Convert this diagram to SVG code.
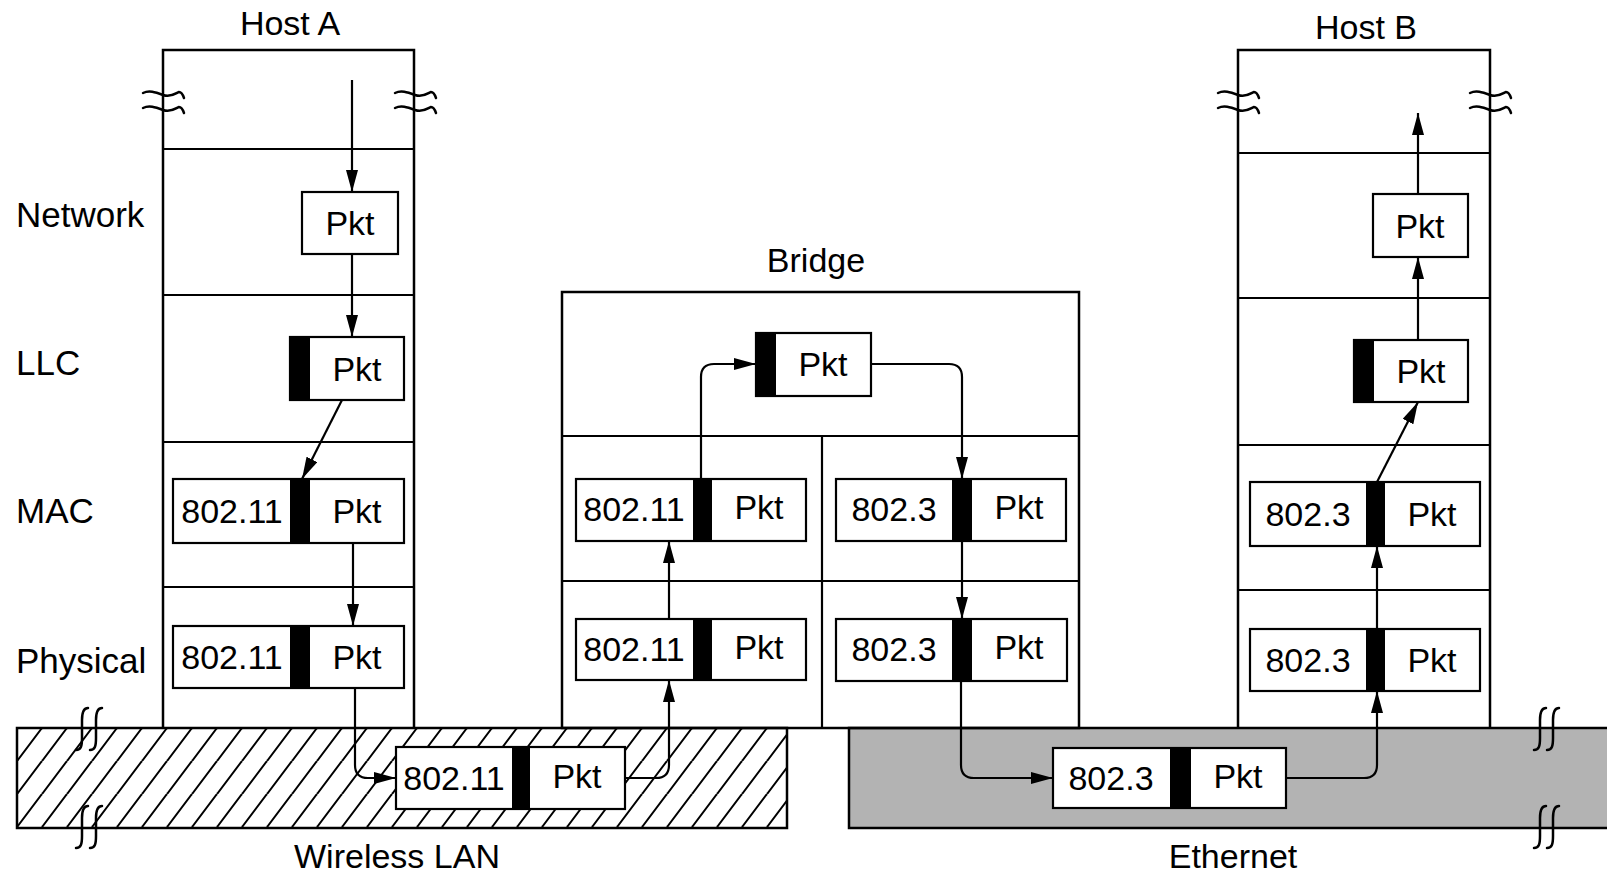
<svg xmlns="http://www.w3.org/2000/svg" width="1607" height="875" viewBox="0 0 1607 875">
<style>
.frame{fill:none;stroke:#000;stroke-width:2.5}
.div{stroke:#000;stroke-width:2.2;fill:none}
.box{fill:#fff;stroke:#000;stroke-width:2.2}
.bar{fill:#000}
.t{font-family:"Liberation Sans",Arial,sans-serif;font-size:34px;fill:#000;text-anchor:middle}
.lbl{font-family:"Liberation Sans",Arial,sans-serif;font-size:35px;fill:#000}
.ln{fill:none;stroke:#000;stroke-width:2.2}
.sq{fill:none;stroke:#000;stroke-width:2.5;stroke-linecap:round}
</style>
<defs>
<marker id="ah" markerUnits="userSpaceOnUse" markerWidth="22" markerHeight="12" refX="22" refY="6" orient="auto">
<path d="M0,0 L22,6 L0,12 z" fill="#000"/>
</marker>
<pattern id="hatch" patternUnits="userSpaceOnUse" x="17" y="728" width="25" height="33">
<path d="M-6,41 L31,-8 M-25,33 L0,0 M25,33 L50,0" stroke="#000" stroke-width="2" fill="none"/>
</pattern>
<path id="vsq" d="M6,0 C1,0 0,5 0,12 L0,30 C0,38 -1,42 -6,42"/>
<path id="hsq" d="M0,0 C6,-3 12,-1 20,2 C28,5 33,0 36,-1 C39,-1 40,2 41,5"/>
</defs>

<!-- Networks -->
<g id="wireless-lan">
<rect x="17" y="728" width="770" height="100" fill="#fff"/>
<rect x="17" y="728" width="770" height="100" fill="url(#hatch)" stroke="#000" stroke-width="2.5"/>
<use href="#vsq" x="82" y="708" class="sq"/>
<use href="#vsq" x="96" y="708" class="sq"/>
<use href="#vsq" x="82" y="806" class="sq"/>
<use href="#vsq" x="96" y="806" class="sq"/>
<text class="t" x="397" y="868">Wireless LAN</text>
</g>
<g id="ethernet">
<rect x="849" y="728" width="770" height="100" fill="#b3b3b3" stroke="#000" stroke-width="2.5"/>
<use href="#vsq" x="1540" y="708" class="sq"/>
<use href="#vsq" x="1553" y="708" class="sq"/>
<use href="#vsq" x="1540" y="806" class="sq"/>
<use href="#vsq" x="1553" y="806" class="sq"/>
<text class="t" x="1233" y="868">Ethernet</text>
</g>

<!-- Layer labels -->
<g id="layer-labels">
<text class="lbl" x="16" y="227">Network</text>
<text class="lbl" x="16" y="375">LLC</text>
<text class="lbl" x="16" y="523">MAC</text>
<text class="lbl" x="16" y="673">Physical</text>
</g>

<!-- Host A -->
<g id="host-a">
<text class="t" x="290" y="35">Host A</text>
<path class="frame" d="M163,728 L163,50 L414,50 L414,728"/>
<path class="div" d="M163,149 H414 M163,295 H414 M163,442 H414 M163,587 H414"/>
<use href="#hsq" x="143" y="93" class="sq"/>
<use href="#hsq" x="143" y="108" class="sq"/>
<use href="#hsq" x="395" y="93" class="sq"/>
<use href="#hsq" x="395" y="108" class="sq"/>
</g>
<g id="a-net"><rect class="box" x="302" y="192" width="96" height="62"/><text class="t" x="350" y="235">Pkt</text></g>
<g id="a-llc"><rect class="box" x="290" y="337" width="114" height="63"/><rect class="bar" x="290" y="337" width="20" height="63"/><text class="t" x="357" y="381">Pkt</text></g>
<g id="a-mac"><rect class="box" x="173" y="479" width="231" height="64"/><rect class="bar" x="290" y="479" width="20" height="64"/><text class="t" x="232" y="523">802.11</text><text class="t" x="357" y="523">Pkt</text></g>
<g id="a-phy"><rect class="box" x="173" y="626" width="231" height="62"/><rect class="bar" x="290" y="626" width="20" height="62"/><text class="t" x="232" y="669">802.11</text><text class="t" x="357" y="669">Pkt</text></g>

<!-- Bridge -->
<g id="bridge">
<text class="t" x="816" y="272">Bridge</text>
<rect class="frame" x="562" y="292" width="517" height="436"/>
<path class="div" d="M562,436 H1079 M822,436 V728 M562,581 H1079"/>
</g>
<g id="b-llc"><rect class="box" x="756" y="333" width="115" height="63"/><rect class="bar" x="756" y="333" width="20" height="63"/><text class="t" x="823" y="376">Pkt</text></g>
<g id="b-mac-l"><rect class="box" x="576" y="479" width="230" height="62"/><rect class="bar" x="693" y="479" width="19" height="62"/><text class="t" x="634" y="521">802.11</text><text class="t" x="759" y="519">Pkt</text></g>
<g id="b-mac-r"><rect class="box" x="836" y="479" width="230" height="62"/><rect class="bar" x="952" y="479" width="20" height="62"/><text class="t" x="894" y="521">802.3</text><text class="t" x="1019" y="519">Pkt</text></g>
<g id="b-phy-l"><rect class="box" x="576" y="619" width="230" height="61"/><rect class="bar" x="693" y="619" width="19" height="61"/><text class="t" x="634" y="661">802.11</text><text class="t" x="759" y="659">Pkt</text></g>
<g id="b-phy-r"><rect class="box" x="836" y="619" width="231" height="62"/><rect class="bar" x="952" y="619" width="20" height="62"/><text class="t" x="894" y="661">802.3</text><text class="t" x="1019" y="659">Pkt</text></g>

<!-- Host B -->
<g id="host-b">
<text class="t" x="1366" y="39">Host B</text>
<path class="frame" d="M1238,728 L1238,50 L1490,50 L1490,728"/>
<path class="div" d="M1238,153 H1490 M1238,298 H1490 M1238,445 H1490 M1238,590 H1490"/>
<use href="#hsq" x="1218" y="93" class="sq"/>
<use href="#hsq" x="1218" y="108" class="sq"/>
<use href="#hsq" x="1470" y="93" class="sq"/>
<use href="#hsq" x="1470" y="108" class="sq"/>
</g>
<g id="h-net"><rect class="box" x="1373" y="194" width="95" height="63"/><text class="t" x="1420" y="238">Pkt</text></g>
<g id="h-llc"><rect class="box" x="1354" y="340" width="114" height="62"/><rect class="bar" x="1354" y="340" width="20" height="62"/><text class="t" x="1421" y="383">Pkt</text></g>
<g id="h-mac"><rect class="box" x="1250" y="482" width="230" height="64"/><rect class="bar" x="1366" y="482" width="19" height="64"/><text class="t" x="1308" y="526">802.3</text><text class="t" x="1432" y="526">Pkt</text></g>
<g id="h-phy"><rect class="box" x="1250" y="629" width="230" height="62"/><rect class="bar" x="1366" y="629" width="19" height="62"/><text class="t" x="1308" y="672">802.3</text><text class="t" x="1432" y="672">Pkt</text></g>

<!-- Frames in transit -->
<g id="w-frame"><rect class="box" x="396" y="747" width="229" height="62"/><rect class="bar" x="512" y="747" width="18" height="62"/><text class="t" x="454" y="790">802.11</text><text class="t" x="577" y="788">Pkt</text></g>
<g id="e-frame"><rect class="box" x="1053" y="748" width="233" height="60"/><rect class="bar" x="1170" y="748" width="21" height="60"/><text class="t" x="1111" y="790">802.3</text><text class="t" x="1238" y="788">Pkt</text></g>

<!-- Connectors -->
<g id="connectors">
<path class="ln" marker-end="url(#ah)" d="M352,80 V192"/>
<path class="ln" marker-end="url(#ah)" d="M352,254 V337"/>
<path class="ln" marker-end="url(#ah)" d="M342,400 L302,479"/>
<path class="ln" marker-end="url(#ah)" d="M353,543 V626"/>
<path class="ln" marker-end="url(#ah)" d="M355,688 V765 Q355,778 368,778 H396"/>
<path class="ln" marker-end="url(#ah)" d="M625,778 H656 Q669,778 669,765 V680"/>
<path class="ln" marker-end="url(#ah)" d="M669,619 V541"/>
<path class="ln" marker-end="url(#ah)" d="M701,479 V377 Q701,364 714,364 H756"/>
<path class="ln" marker-end="url(#ah)" d="M871,364 H949 Q962,364 962,377 V479"/>
<path class="ln" marker-end="url(#ah)" d="M962,541 V619"/>
<path class="ln" marker-end="url(#ah)" d="M961,681 V765 Q961,778 974,778 H1053"/>
<path class="ln" marker-end="url(#ah)" d="M1286,778 H1364 Q1377,778 1377,765 V691"/>
<path class="ln" marker-end="url(#ah)" d="M1377,629 V546"/>
<path class="ln" marker-end="url(#ah)" d="M1377,482 L1418,402"/>
<path class="ln" marker-end="url(#ah)" d="M1418,340 V257"/>
<path class="ln" marker-end="url(#ah)" d="M1418,194 V113"/>
</g>
</svg>
